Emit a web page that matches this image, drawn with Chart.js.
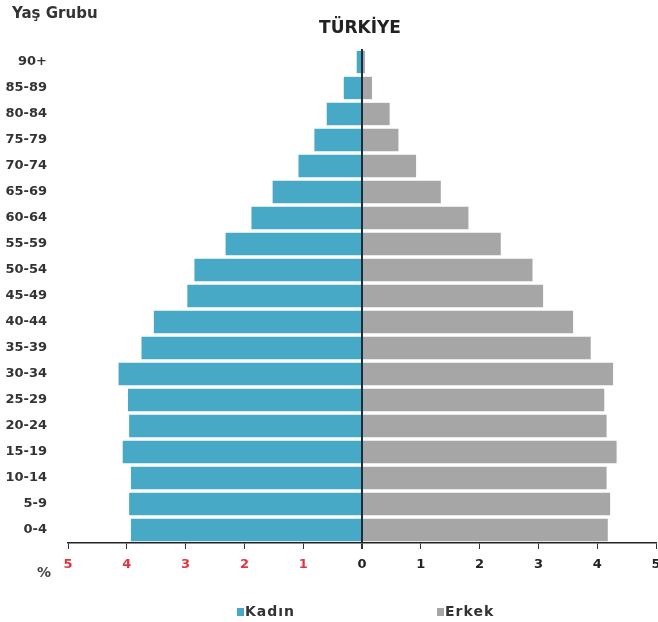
<!DOCTYPE html>
<html>
<head>
<meta charset="utf-8">
<script src="https://cdn.jsdelivr.net/npm/chart.js@4.4.1/dist/chart.umd.min.js"></script>
<style>
  html, body { margin:0; padding:0; background:#fff; overflow:hidden; }
  #wrap { position:relative; width:658px; height:622px; font-family:"DejaVu Sans", sans-serif; font-weight:bold; color:#333; }
  #wrap canvas { position:absolute; left:0; top:0; }
  .lbl { position:absolute; white-space:nowrap; }
  #baslik { left:0; width:720px; top:17px; text-align:center; font-size:17px; color:#222; }
  #yasGrubu { left:12px; top:4px; font-size:15px; }
  #yuzde { left:37px; top:564px; font-size:14px; color:#444; }
  .leg { position:absolute; top:603px; font-size:14px; letter-spacing:1px; color:#333; }
  .leg span { display:inline-block; width:7px; height:8px; margin-right:1px; vertical-align:0px; }
</style>
</head>
<body>
<div id="wrap">
  <canvas id="piramit"></canvas>
  <div class="lbl" id="yasGrubu">Yaş Grubu</div>
  <div class="lbl" id="baslik">TÜRKİYE</div>
  <div class="lbl" id="yuzde">%</div>
  <div class="leg" style="left:237px"><span id="kutuKadin"></span>Kadın</div>
  <div class="leg" style="left:437px"><span id="kutuErkek"></span>Erkek</div>
</div>
<script>
// Türkiye nüfus piramidi (%)

const yasGruplari = ['90+','85-89','80-84','75-79','70-74','65-69','60-64','55-59','50-54',
                     '45-49','40-44','35-39','30-34','25-29','20-24','15-19','10-14','5-9','0-4'];

const kadin = [0.09, 0.31, 0.60, 0.81, 1.08, 1.52, 1.88, 2.32, 2.85,
               2.97, 3.54, 3.75, 4.14, 3.98, 3.96, 4.07, 3.93, 3.96, 3.93];
const erkek = [0.05, 0.17, 0.47, 0.62, 0.92, 1.34, 1.81, 2.36, 2.90,
               3.08, 3.59, 3.89, 4.27, 4.12, 4.16, 4.33, 4.16, 4.22, 4.18];

const renkKadin = '#47a9c6';
const renkErkek = '#a6a6a6';
const kirmizi = '#e3343f';

document.getElementById('kutuKadin').style.background = renkKadin;
document.getElementById('kutuErkek').style.background = renkErkek;

const yazi = { family: 'DejaVu Sans', weight: 'bold', size: 13 };

const ctx = document.getElementById('piramit').getContext('2d');
new Chart(ctx, {
  type: 'bar',
  data: {
    labels: yasGruplari,
    datasets: [
      { label: 'Kadın', data: kadin.map(v => -v), backgroundColor: renkKadin,
        categoryPercentage: 1, barPercentage: 0.86 },
      { label: 'Erkek', data: erkek, backgroundColor: renkErkek,
        categoryPercentage: 1, barPercentage: 0.86 }
    ]
  },
  options: {
    indexAxis: 'y',
    responsive: true,
    maintainAspectRatio: false,
    animation: false,
    layout: { padding: { top: 49, bottom: 49, left: 0, right: 2 } },
    plugins: {
      legend: { display: false },
      title: { display: false },
      tooltip: { enabled: false }
    },
    scales: {
      x: {
        stacked: true,
        min: -5, max: 5,
        z: 1,
        border: { display: true, color: '#222', width: 1.5 },
        grid: {
          color: c => c.tick && c.tick.value === 0 ? '#1c2d3c' : 'rgba(0,0,0,0)',
          lineWidth: c => c.tick && c.tick.value === 0 ? 2 : 1,
          tickColor: '#333',
          tickLength: 6
        },
        ticks: {
          stepSize: 1,
          autoSkip: false,
          padding: 8,
          font: yazi,
          color: c => c.tick.value < 0 ? kirmizi : '#222',
          callback: v => Math.abs(v)
        },
        afterFit: s => { s.height = 30; s.paddingRight = 2; }
      },
      y: {
        stacked: true,
        border: { display: false },
        grid: { display: false, drawTicks: false },
        ticks: { padding: 21, font: yazi, color: '#333' },
        afterFit: s => { s.width = 68; }
      }
    }
  }
});
</script>
</body>
</html>
